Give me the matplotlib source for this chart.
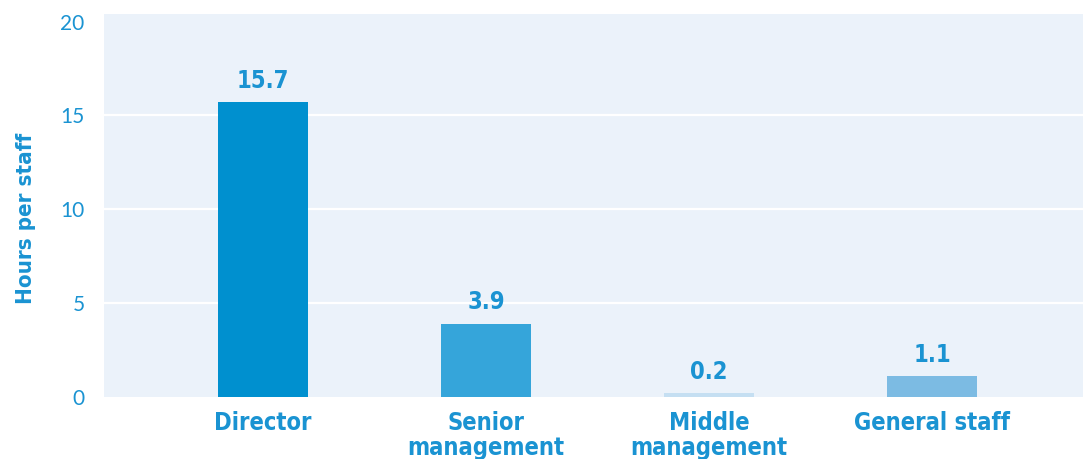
import matplotlib.pyplot as plt

# data
categories = ['Director', 'Senior\nmanagement', 'Middle\nmanagement', 'General staff']
hours = [15.7, 3.9, 0.2, 1.1]
value_labels = ['15.7', '3.9', '0.2', '1.1']
bar_colors = ['#0090cf', '#35a5da', '#c5dff2', '#7cbbe3']
yticks = [0, 5, 10, 15, 20]

text_blue = '#1a93d2'
bold_kw = dict(fontsize=17, fontweight='bold', family='DejaVu Sans',
               fontstretch='condensed', color=text_blue)

fig = plt.figure(figsize=(10.83, 4.59), dpi=100)
ax = fig.add_axes([0.096, 0.135, 0.904, 0.8345])
ax.set_facecolor('#ebf2fa')

x = range(len(categories))
bars = ax.bar(x, hours, width=0.404, color=bar_colors, zorder=3)

for xi, h, lab in zip(x, hours, value_labels):
    ax.annotate(lab, (xi, h), xytext=(0, 7), textcoords='offset points',
                ha='center', va='bottom', **bold_kw)

ax.set_xlim(-0.713, 3.677)
ax.set_ylim(0, 20.4)
ax.set_yticks(yticks)
ax.set_yticklabels([str(t) for t in yticks], fontsize=15, color=text_blue,
                   family=['Lato', 'DejaVu Sans'], fontweight='normal')
ax.set_xticks(list(x))
ax.set_xticklabels(categories, linespacing=1.05, **bold_kw)
ax.tick_params(axis='y', length=0, pad=14)
ax.tick_params(axis='x', length=0, pad=10)

ax.yaxis.grid(True, color='white', linewidth=1.6, zorder=1)
ax.set_axisbelow(True)
gl = ax.get_ygridlines()
gl[0].set_visible(False)
gl[-1].set_visible(False)

for s in ax.spines.values():
    s.set_visible(False)

ax.set_ylabel('Hours per staff', fontsize=16, fontweight='bold', family='DejaVu Sans',
              fontstretch='condensed', color=text_blue)
ax.yaxis.set_label_coords(-0.069, 0.466)

fig.savefig('out.png', dpi=100)
